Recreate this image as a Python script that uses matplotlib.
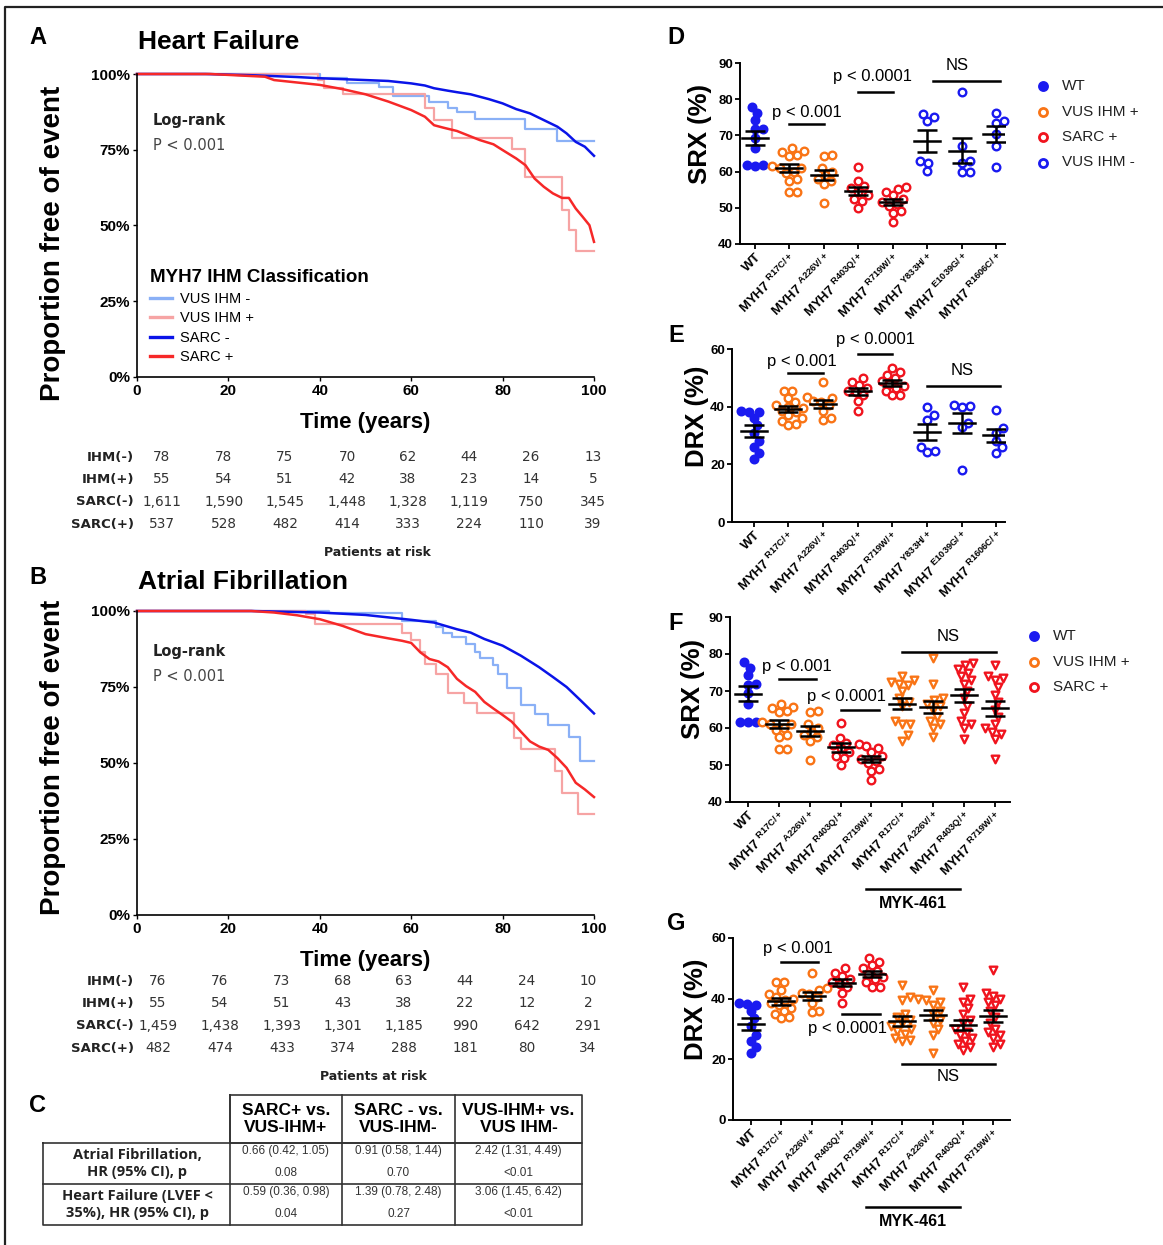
import numpy as np
import matplotlib
matplotlib.use("Agg")
import matplotlib.pyplot as plt
from matplotlib.lines import Line2D

plt.rcParams['font.family'] = ['Liberation Sans', 'DejaVu Sans']
plt.rcParams['mathtext.fontset'] = 'custom'
plt.rcParams['mathtext.rm'] = 'Liberation Sans'
plt.rcParams['mathtext.bf'] = 'Liberation Sans:bold'

# ---------------- data ----------------
# panel A: heart failure, Kaplan-Meier (time in years, % free of event)
hf_vus_neg_t = [0, 40, 46, 53, 56, 64, 68, 70, 74, 85, 92, 100]
hf_vus_neg_s = [100, 98.8, 97.1, 95.8, 92.8, 90.9, 88.9, 87.3, 85.1, 82.0, 77.9, 77.9]
hf_vus_pos_t = [0, 39.5, 41, 45, 63, 65, 69, 82, 85, 93, 94.5, 96, 100]
hf_vus_pos_s = [100, 98.0, 95.3, 93.3, 88.7, 84.8, 79.0, 75.2, 66.1, 55.1, 48.5, 41.6, 41.6]
hf_sarc_neg_t = [0, 15, 25, 35, 40, 45, 50, 55, 60, 63, 65, 68, 70, 73, 75, 77, 80, 83, 86, 89, 92, 94, 96, 98, 100]
hf_sarc_neg_s = [100, 100, 99.6, 99.0, 98.6, 98.3, 98.0, 97.7, 96.9, 96.2, 95.3, 94.5, 94.0, 93.3, 92.5, 91.7,
                 90.3, 88.4, 87.0, 84.8, 82.6, 80.4, 77.6, 76.0, 73.0]
hf_sarc_pos_t = [0, 16, 28, 30, 35, 40, 45, 50, 55, 60, 63, 65, 67, 70, 75, 78, 80, 83, 85, 87, 89, 91, 93,
                 94.5, 96, 97.5, 99, 100]
hf_sarc_pos_s = [100, 100, 99.1, 98.0, 97.2, 96.4, 95.0, 93.3, 90.9, 88.1, 85.9, 83.1, 82.3, 81.2, 78.2, 76.8,
                 74.9, 72.1, 69.9, 65.5, 62.8, 60.6, 59.1, 59.1, 55.6, 52.9, 50.1, 44.6]

# panel B: atrial fibrillation
af_vus_neg_t = [0, 42, 58, 65.5, 67, 69, 72, 74, 75, 78, 79, 81, 84, 87, 90, 94.5, 97, 100]
af_vus_neg_s = [100, 99.3, 96.7, 94.6, 92.9, 91.3, 89.1, 86.6, 84.5, 82.1, 79.3, 74.7, 69.2, 66.0, 62.5, 58.7,
                50.5, 50.5]
af_vus_pos_t = [0, 37, 39, 58, 60, 62, 63, 65.5, 68, 71.5, 74.5, 82.5, 84, 91.5, 93, 96.5, 100]
af_vus_pos_s = [100, 99.0, 95.7, 92.9, 90.5, 86.4, 82.6, 79.3, 73.0, 69.6, 66.3, 58.3, 54.6, 47.3, 40.0, 33.3, 33.3]
af_sarc_neg_t = [0, 25, 40, 50, 60, 65, 70, 73, 76, 80, 84, 88, 91, 94, 97, 100]
af_sarc_neg_s = [100, 100, 99.5, 98.7, 97.1, 96.2, 94.0, 92.9, 90.8, 88.6, 85.3, 81.5, 78.3, 75.0, 70.7, 66.3]
af_sarc_pos_t = [0, 25, 30, 35, 40, 45, 50, 55, 58, 60, 62, 64, 66, 68, 70, 72, 74, 76, 78, 80, 82, 84, 86, 88,
                 90, 92, 94, 96, 98, 100]
af_sarc_pos_s = [100, 100, 99.5, 98.6, 97.3, 95.1, 92.4, 91.0, 90.2, 89.5, 86.4, 84.2, 83.4, 81.5, 77.7, 75.3,
                 73.4, 70.1, 67.9, 65.8, 63.6, 60.3, 57.1, 55.4, 54.3, 51.6, 48.4, 43.5, 41.3, 38.8]

# patients at risk
risk_labels = ["IHM(-)", "IHM(+)", "SARC(-)", "SARC(+)"]
hf_risk = [["78", "78", "75", "70", "62", "44", "26", "13"],
           ["55", "54", "51", "42", "38", "23", "14", "5"],
           ["1,611", "1,590", "1,545", "1,448", "1,328", "1,119", "750", "345"],
           ["537", "528", "482", "414", "333", "224", "110", "39"]]
af_risk = [["76", "76", "73", "68", "63", "44", "24", "10"],
           ["55", "54", "51", "43", "38", "22", "12", "2"],
           ["1,459", "1,438", "1,393", "1,301", "1,185", "990", "642", "291"],
           ["482", "474", "433", "374", "288", "181", "80", "34"]]

# panel C table
tbl_cols = ["SARC+ vs.\nVUS-IHM+", "SARC - vs.\nVUS-IHM-", "VUS-IHM+ vs.\nVUS IHM-"]
tbl_rows = ["Atrial Fibrillation,\nHR (95% CI), p", "Heart Failure (LVEF <\n35%), HR (95% CI), p"]
tbl_hr = [["0.66 (0.42, 1.05)", "0.91 (0.58, 1.44)", "2.42 (1.31, 4.49)"],
          ["0.59 (0.36, 0.98)", "1.39 (0.78, 2.48)", "3.06 (1.45, 6.42)"]]
tbl_p = [["0.08", "0.70", "<0.01"], ["0.04", "0.27", "<0.01"]]

# panels D-G: mouse myosin SRX / DRX
de_labels = ["WT", r"MYH7 $^{\mathbf{R17C/+}}$", r"MYH7 $^{\mathbf{A226V/+}}$", r"MYH7 $^{\mathbf{R403Q/+}}$",
             r"MYH7 $^{\mathbf{R719W/+}}$", r"MYH7 $^{\mathbf{Y833H/+}}$", r"MYH7 $^{\mathbf{E1039G/+}}$",
             r"MYH7 $^{\mathbf{R1606C/+}}$"]
fg_labels = de_labels[:5] + de_labels[1:5]

srx_wt = [77.9, 76.3, 74.2, 71.9, 71.7, 69.4, 66.4, 61.7, 61.5, 61.7]
srx_r17c = [66.5, 65.8, 65.5, 64.6, 64.4, 61.5, 61.0, 61.0, 60.0, 59.5, 58.0, 57.5, 54.3, 54.3]
srx_a226v = [64.5, 64.3, 61.0, 60.0, 59.0, 58.0, 57.5, 56.5, 51.3]
srx_r403q = [61.3, 57.3, 56.0, 55.5, 54.5, 53.5, 52.5, 52.0, 50.0]
srx_r719w = [55.8, 55.2, 54.5, 53.5, 52.5, 51.5, 51.0, 50.5, 49.0, 48.5, 46.0]
srx_y833h = [75.9, 75.0, 74.0, 63.0, 62.5, 60.3]
srx_e1039g = [82.0, 67.0, 63.0, 62.5, 60.0, 60.0]
srx_r1606c = [76.2, 74.0, 73.5, 70.5, 67.0, 61.2]

drx_wt = [38.5, 38.3, 38.0, 36.0, 33.5, 31.0, 28.0, 26.0, 24.0, 22.0]
drx_r17c = [45.5, 45.5, 43.0, 41.5, 40.5, 40.0, 39.5, 38.5, 38.0, 37.0, 36.0, 35.0, 34.0, 33.5]
drx_a226v = [48.5, 43.5, 43.0, 42.0, 41.5, 40.5, 38.5, 36.0, 35.5]
drx_r403q = [50.0, 48.5, 47.5, 46.5, 45.5, 45.0, 44.0, 42.0, 38.5]
drx_r719w = [53.5, 52.0, 51.0, 50.0, 49.0, 48.0, 47.0, 46.5, 45.5, 44.0, 44.0]
drx_y833h = [40.0, 37.0, 35.5, 26.0, 24.5, 24.3]
drx_e1039g = [40.5, 40.3, 39.8, 34.5, 33.0, 18.0]
drx_r1606c = [39.0, 32.5, 31.0, 28.0, 26.0, 24.0]

# with MYK-461
srx_myk_r17c = [74.0, 73.0, 72.5, 72.0, 71.5, 70.0, 68.0, 67.0, 66.0, 62.0, 61.0, 61.0, 58.0, 56.5]
srx_myk_a226v = [79.0, 72.0, 68.0, 67.5, 66.5, 66.0, 65.0, 63.0, 62.0, 61.0, 60.0, 57.5]
srx_myk_r403q = [77.5, 77.0, 76.0, 75.0, 74.0, 73.0, 72.0, 70.0, 68.0, 66.0, 64.0, 62.0, 61.0, 60.0, 57.0]
srx_myk_r719w = [77.0, 74.0, 73.5, 73.0, 71.0, 69.0, 67.0, 65.0, 63.0, 61.0, 60.0, 59.0, 58.5, 57.0, 51.5]
drx_myk_r17c = [44.5, 40.5, 39.5, 35.0, 34.0, 33.0, 32.0, 31.0, 30.0, 29.5, 28.5, 27.0, 26.5, 26.0]
drx_myk_a226v = [43.0, 40.0, 39.5, 39.0, 38.0, 36.0, 35.0, 33.0, 32.0, 30.0, 28.0, 22.0]
drx_myk_r403q = [44.0, 40.0, 39.0, 37.0, 35.0, 33.0, 32.0, 30.0, 29.0, 28.0, 27.0, 26.0, 25.0, 24.0, 23.0]
drx_myk_r719w = [49.5, 42.0, 41.0, 40.0, 39.0, 38.0, 36.0, 34.0, 32.0, 30.0, 29.0, 28.0, 27.0, 25.0, 24.0]

# ---------------- styles ----------------
BLUE = '#1a1af0'
ORANGE = '#f97416'
RED = '#f0141e'
KM_BLUE = '#0a14e8'
KM_RED = '#f62828'
KM_LBLUE = '#8ab0f6'
KM_PINK = '#f6a4a4'

W, H = 1163, 1245
fig = plt.figure(figsize=(W / 100, H / 100), dpi=100)


def px_axes(l, t, r, b):
    return fig.add_axes([l / W, 1 - b / H, (r - l) / W, (b - t) / H])


# overlay in pixel coordinates for free text / table
ov = fig.add_axes([0, 0, 1, 1], zorder=-1)
ov.set_xlim(0, W)
ov.set_ylim(H, 0)
ov.axis('off')

# outer frame (top and left edges visible)
ov.plot([5, 5, W], [H, 7, 7], color='#222222', lw=1.6)


def km_panel(ax, curves, ylab_y, logrank_y):
    for t, s, c, lw, step in curves:
        if step:
            ax.step(t, s, where='post', color=c, lw=lw, clip_on=False)
        else:
            ax.plot(t, s, color=c, lw=lw, clip_on=False)
    ax.set_xlim(0, 100)
    ax.set_ylim(0, 100)
    ax.set_xticks(range(0, 101, 20))
    ax.set_yticks(range(0, 101, 25))
    ax.set_yticklabels([f"{v}%" for v in range(0, 101, 25)])
    for lab in ax.get_xticklabels() + ax.get_yticklabels():
        lab.set_fontweight('bold')
        lab.set_fontsize(11)
    ax.tick_params(length=3, width=1, pad=2)
    for sp in ['top', 'right']:
        ax.spines[sp].set_visible(False)
    for sp in ['left', 'bottom']:
        ax.spines[sp].set_linewidth(1.2)
    ax.text(0.035, logrank_y, "Log-rank", transform=ax.transAxes, fontsize=10.5, fontweight='bold',
            family='DejaVu Sans', color='#222222', va='center')
    ax.text(0.035, logrank_y - 0.084, "P < 0.001", transform=ax.transAxes, fontsize=10.5,
            family='DejaVu Sans', color='#444444', va='center')
    ax.set_xlabel("Time (years)", fontsize=16, fontweight='bold', labelpad=10)
    ax.set_ylabel("Proportion free of event", fontsize=20, fontweight='bold')
    ax.yaxis.set_label_coords(-0.155, ylab_y)


axA = px_axes(137, 74, 594, 377)
km_panel(axA, [(hf_vus_neg_t, hf_vus_neg_s, KM_LBLUE, 1.6, True),
               (hf_vus_pos_t, hf_vus_pos_s, KM_PINK, 1.6, True),
               (hf_sarc_neg_t, hf_sarc_neg_s, KM_BLUE, 1.8, False),
               (hf_sarc_pos_t, hf_sarc_pos_s, KM_RED, 1.8, False)], 0.44, 0.848)
handles = [Line2D([], [], color=KM_LBLUE, lw=2.4), Line2D([], [], color=KM_PINK, lw=2.4),
           Line2D([], [], color=KM_BLUE, lw=2.4), Line2D([], [], color=KM_RED, lw=2.4)]
leg = axA.legend(handles, ["VUS IHM -", "VUS IHM +", "SARC -", "SARC +"], loc='upper left',
                 bbox_to_anchor=(0.015, 0.375), frameon=False, fontsize=10.5, handlelength=1.5,
                 handletextpad=0.6, labelspacing=0.38, borderaxespad=0,
                 title="MYH7 IHM Classification",
                 title_fontproperties={'weight': 'bold', 'size': 13.5})
leg._legend_box.align = 'left'

axB = px_axes(137, 611, 594, 915)
km_panel(axB, [(af_vus_neg_t, af_vus_neg_s, KM_LBLUE, 1.6, True),
               (af_vus_pos_t, af_vus_pos_s, KM_PINK, 1.6, True),
               (af_sarc_neg_t, af_sarc_neg_s, KM_BLUE, 1.8, False),
               (af_sarc_pos_t, af_sarc_pos_s, KM_RED, 1.8, False)], 0.52, 0.868)

# titles and panel letters
ov.text(38, 38, "A", fontsize=17, fontweight='bold', va='center', ha='center')
ov.text(138, 42, "Heart Failure", fontsize=19, fontweight='bold', va='center')
ov.text(38, 578, "B", fontsize=17, fontweight='bold', va='center', ha='center')
ov.text(138, 582, "Atrial Fibrillation", fontsize=19, fontweight='bold', va='center')
ov.text(38, 1106, "C", fontsize=17, fontweight='bold', va='center', ha='center')
for letter, y in [("D", 38), ("E", 336), ("F", 624), ("G", 924)]:
    ov.text(676, y, letter, fontsize=17, fontweight='bold', va='center', ha='center')


# patients at risk tables
def risk_table(rows, y0, xs, ytitle, xtitle):
    for k, (lab, vals) in enumerate(zip(risk_labels, rows)):
        y = y0 + k * 22.4
        ov.text(134, y, lab, ha='right', va='center', fontsize=9.5, fontweight='bold',
                family='DejaVu Sans', color='#222222')
        for x, v in zip(xs, vals):
            ov.text(x, y, v, ha='center', va='center', fontsize=9.8, family='DejaVu Sans', color='#333333')
    ov.text(xtitle, ytitle, "Patients at risk", ha='center', va='center', fontsize=9,
            fontweight='bold', family='DejaVu Sans', color='#222222')


risk_table(hf_risk, 457, [162, 224, 285, 347, 408, 469, 531, 593], 552, 377)
risk_table(af_risk, 981, [158, 220, 282, 343, 404, 465, 527, 588], 1077, 373)

# panel C table
col_x = [230, 342, 455, 582]
ov.plot([230, 582, 582, 230, 230], [1095, 1095, 1143, 1143, 1095], color='#333333', lw=1.2)
ov.plot([43, 582, 582, 43, 43], [1143, 1143, 1225, 1225, 1143], color='#333333', lw=1.2)
ov.plot([43, 582], [1184, 1184], color='#333333', lw=1.2)
for x in col_x[:3]:
    ov.plot([x, x], [1095, 1225], color='#333333', lw=1.2)
for j, name in enumerate(tbl_cols):
    cx = (col_x[j] + col_x[j + 1]) / 2
    ov.text(cx, 1119, name, ha='center', va='center', fontsize=12.5, fontweight='bold', linespacing=1.1)
for i, name in enumerate(tbl_rows):
    ytop = 1143 + i * 41
    ov.text(137, ytop + 20.5, name, ha='center', va='center', fontsize=10.5, fontweight='bold',
            family='Open Sans', linespacing=1.35, color='#222222')
    for j in range(3):
        cx = (col_x[j] + col_x[j + 1]) / 2
        ov.text(cx, ytop + 8, tbl_hr[i][j], ha='center', va='center', fontsize=8.5, color='#333333')
        ov.text(cx, ytop + 30, tbl_p[i][j], ha='center', va='center', fontsize=8.5, color='#333333')


# ---------------- dot plots ----------------
def swarm(vals, py, d):
    ys = np.asarray(vals, float) * py
    xs = np.zeros(len(ys))
    done = []
    for i in np.argsort(ys):
        near = [j for j in done if abs(ys[j] - ys[i]) < d]
        cands = [0.0]
        for j in near:
            h = np.sqrt(d ** 2 - (ys[j] - ys[i]) ** 2)
            cands += [xs[j] + h, xs[j] - h]
        cands.sort(key=abs)
        for c in cands:
            if all((c - xs[j]) ** 2 + (ys[j] - ys[i]) ** 2 >= d ** 2 - 1e-6 for j in near):
                xs[i] = c
                break
        done.append(i)
    return xs


def dot_panel(ax, groups, styles, labels, ylim, yticks, xlim, ylabel, box, lab_x):
    l, t, r, b = box
    px_cat = (r - l) / (xlim[1] - xlim[0])
    px_y = (b - t) / (ylim[1] - ylim[0])
    for i, (vals, (col, mk, filled)) in enumerate(zip(groups, styles)):
        vals = np.asarray(vals, float)
        off = swarm(vals, px_y, 8.0) / px_cat
        ax.scatter(i + off, vals, s=30, marker=mk, facecolors=col if filled else 'white',
                   edgecolors=col, linewidths=1.7, zorder=2, clip_on=False)
        m = vals.mean()
        se = vals.std(ddof=1) / np.sqrt(len(vals))
        hw = 13 / px_cat
        ax.plot([i - hw, i + hw], [m, m], color='k', lw=1.8, zorder=3)
        ax.errorbar(i, m, yerr=se, fmt='none', ecolor='k', elinewidth=1.8, capsize=7,
                    capthick=1.8, zorder=3)
    ax.set_xlim(*xlim)
    ax.set_ylim(*ylim)
    ax.set_yticks(yticks)
    ax.set_xticks(range(len(groups)))
    ax.set_xticklabels(labels, rotation=45, ha='right', rotation_mode='anchor', fontsize=9.5,
                       fontweight='bold')
    for lab in ax.get_yticklabels():
        lab.set_fontweight('bold')
        lab.set_fontsize(9.5)
    ax.tick_params(length=3.5, width=1.3, pad=1.5)
    for sp in ['top', 'right']:
        ax.spines[sp].set_visible(False)
    for sp in ['left', 'bottom']:
        ax.spines[sp].set_linewidth(1.4)
    ax.set_ylabel(ylabel, fontsize=18.5, fontweight='bold')
    ax.yaxis.set_label_coords((lab_x - l) / (r - l), 0.61)


def sig(ax, x0, x1, y, text, tx, ty):
    ax.plot([x0, x1], [y, y], color='k', lw=1.8, clip_on=False)
    ax.text(tx, ty, text, ha='center', va='center', fontsize=12, clip_on=False)


st_de = [(BLUE, 'o', True), (ORANGE, 'o', False), (ORANGE, 'o', False), (RED, 'o', False),
         (RED, 'o', False), (BLUE, 'o', False), (BLUE, 'o', False), (BLUE, 'o', False)]
st_fg = st_de[:5] + [(ORANGE, 'v', False), (ORANGE, 'v', False), (RED, 'v', False), (RED, 'v', False)]

boxD = (740, 63, 1005, 244)
axD = px_axes(*boxD)
dot_panel(axD, [srx_wt, srx_r17c, srx_a226v, srx_r403q, srx_r719w, srx_y833h, srx_e1039g, srx_r1606c],
          st_de, de_labels, (40, 90), range(40, 91, 10), (-0.43, 7.25), "SRX (%)", boxD, 712)
sig(axD, 1, 2, 73.1, "p < 0.001", 1.5, 76.3)
sig(axD, 3, 4, 82.0, "p < 0.0001", 3.4, 86.4)
sig(axD, 5.15, 7.1, 84.9, "NS", 5.85, 89.2)

boxE = (732, 349, 1005, 522)
axE = px_axes(*boxE)
dot_panel(axE, [drx_wt, drx_r17c, drx_a226v, drx_r403q, drx_r719w, drx_y833h, drx_e1039g, drx_r1606c],
          st_de, de_labels, (0, 60), range(0, 61, 20), (-0.63, 7.25), "DRX (%)", boxE, 709)
sig(axE, 1, 2, 51.8, "p < 0.001", 1.4, 55.8)
sig(axE, 3, 4, 58.2, "p < 0.0001", 3.5, 63.3)
sig(axE, 5, 7.1, 47.3, "NS", 6.0, 52.5)

boxF = (730, 617, 1010, 802)
axF = px_axes(*boxF)
dot_panel(axF, [srx_wt, srx_r17c, srx_a226v, srx_r403q, srx_r719w,
                srx_myk_r17c, srx_myk_a226v, srx_myk_r403q, srx_myk_r719w],
          st_fg, fg_labels, (40, 90), range(40, 91, 10), (-0.58, 8.49), "SRX (%)", boxF, 705)
sig(axF, 1, 2.2, 73.3, "p < 0.001", 1.6, 76.6)
sig(axF, 3, 4.25, 64.9, "p < 0.0001", 3.2, 68.4)
sig(axF, 5.0, 8.05, 80.5, "NS", 6.5, 84.6)

boxG = (733, 938, 1010, 1120)
axG = px_axes(*boxG)
dot_panel(axG, [drx_wt, drx_r17c, drx_a226v, drx_r403q, drx_r719w,
                drx_myk_r17c, drx_myk_a226v, drx_myk_r403q, drx_myk_r719w],
          st_fg, fg_labels, (0, 60), range(0, 61, 20), (-0.6, 8.56), "DRX (%)", boxG, 708)
sig(axG, 1, 2.2, 52.1, "p < 0.001", 1.55, 56.4)
sig(axG, 3, 4.25, 34.9, "p < 0.0001", 3.2, 30.3)
sig(axG, 5.0, 8.05, 18.4, "NS", 6.5, 14.3)

# MYK-461 brackets under F and G
for yb, yt in [(889, 903), (1207, 1221)]:
    ov.plot([866, 960], [yb, yb], color='k', lw=1.8)
    ov.text(913, yt, "MYK-461", ha='center', va='center', fontsize=11.5, fontweight='bold')


# legends for D and F
def dot_legend(x, y0, entries):
    for k, (name, col, filled) in enumerate(entries):
        y = y0 + k * 25.5
        ov.scatter([x], [y], s=34, marker='o', facecolors=col if filled else 'white',
                   edgecolors=col, linewidths=2)
        ov.text(x + 19, y, name, va='center', fontsize=11, color='#222222')


dot_legend(1043, 86, [("WT", BLUE, True), ("VUS IHM +", ORANGE, False), ("SARC +", RED, False),
                      ("VUS IHM -", BLUE, False)])
dot_legend(1034, 636, [("WT", BLUE, True), ("VUS IHM +", ORANGE, False), ("SARC +", RED, False)])

fig.savefig("out.png", dpi=100)
